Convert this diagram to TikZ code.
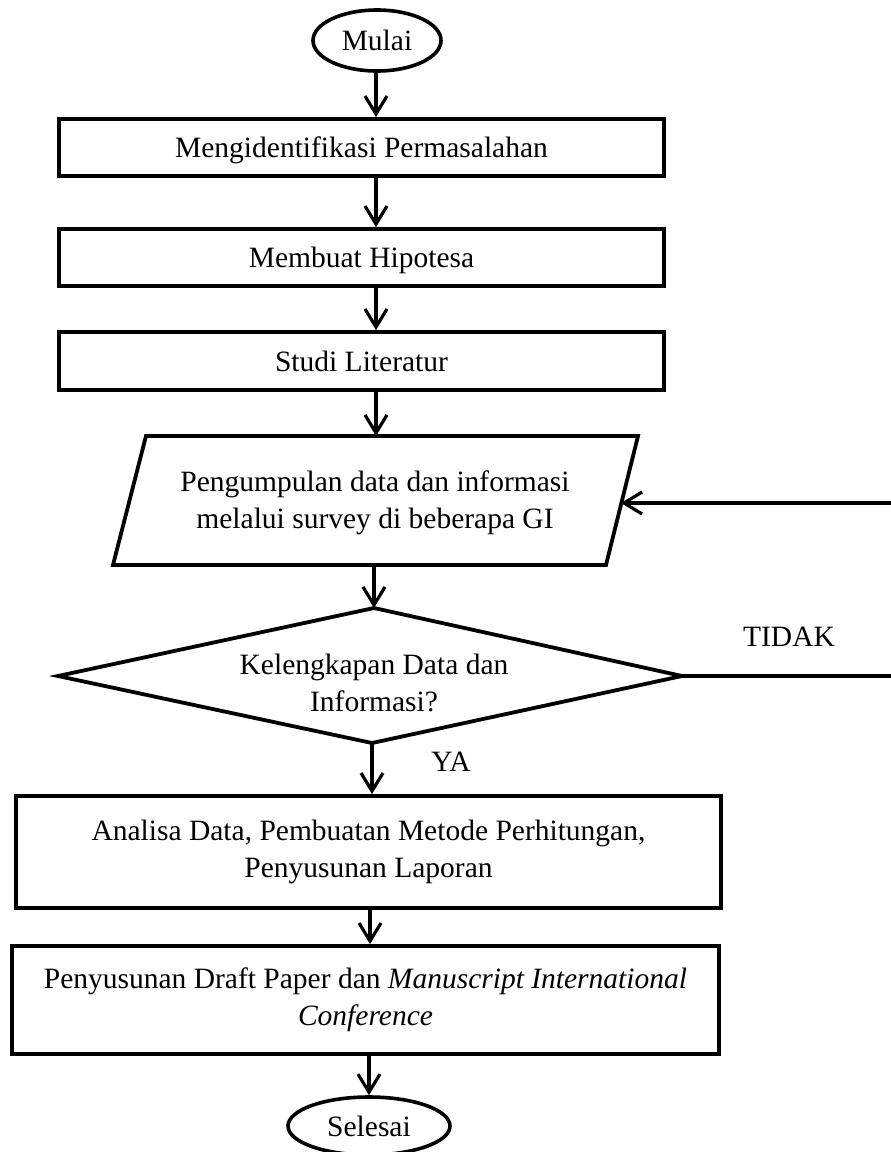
\documentclass[tikz,border=0pt]{standalone}
\usepackage{fontspec}
\setmainfont{Liberation Serif}
\usetikzlibrary{arrows.meta,shapes.geometric,calc}
\begin{document}
\begin{tikzpicture}[x=1pt,y=-1pt,
  every node/.style={font=\fontsize{29.5}{37}\selectfont},
  procbox/.style={draw, line width=3.8pt, inner sep=0pt, align=center},
  onebox/.style={procbox, minimum width=605pt, text depth=0pt},
  term/.style={draw, ellipse, line width=3.6pt, inner sep=0pt},
  shapeline/.style={line width=3.8pt, line join=miter},
  arr/.style={line width=3.2pt, -{Straight Barb[length=18pt,width=22pt,line width=3.2pt]}},
  lbl/.style={inner sep=0pt, align=center}]
\useasboundingbox (0,0) rectangle (891,1152);
% terminators
\node[term, minimum width=128pt, minimum height=61pt] (mulai) at (377,40.5) {Mulai};
\node[term, minimum width=162pt, minimum height=58pt] (selesai) at (369,1126) {Selesai};
% process boxes
\node[onebox, minimum height=57pt] (r1) at (361.5,147.5) {Mengidentifikasi Permasalahan};
\node[onebox, minimum height=57pt] (r2) at (361.5,257.5) {Membuat Hipotesa};
\node[onebox, minimum height=58pt] (r3) at (361.5,361) {Studi Literatur};
% parallelogram
\coordinate (ptl) at (146,436);
\coordinate (ptr) at (638,436);
\coordinate (pbr) at (606,565);
\coordinate (pbl) at (113,565);
\draw[shapeline] (ptl) -- (ptr) -- (pbr) -- (pbl) -- cycle;
\coordinate (ptop) at (376,436);
\coordinate (pbot) at (374,565);
\coordinate (pin) at (621,503);
\node[lbl] (ptext) at (375,503) {Pengumpulan data dan informasi\\melalui survey di beberapa GI};
% decision diamond
\coordinate (dt) at (374,608);
\coordinate (dr) at (682,676);
\coordinate (db) at (372,743);
\coordinate (dl) at (58,676);
\draw[shapeline] (dt) -- (dr) -- (db) -- (dl) -- cycle;
\node[lbl] (dtext) at (374,683) {Kelengkapan Data dan\\Informasi?};
% lower boxes
\node[procbox, minimum width=705pt, minimum height=112pt] (r4) at (368.5,852) {Analisa Data, Pembuatan Metode Perhitungan,\\Penyusunan Laporan};
\node[procbox, minimum width=707pt, minimum height=108pt] (r5) at (365.5,1000) {Penyusunan Draft Paper dan \textit{Manuscript International}\\\textit{Conference}};
% loop-back corner points (outside the page on the right)
\coordinate (c1) at (897,676);
\coordinate (c2) at (897,503);
\coordinate (acol) at (370,0);
% connectors
\draw[arr] (mulai.south -| ptop) -- (r1.north -| ptop);
\draw[arr] (r1.south -| ptop) -- (r2.north -| ptop);
\draw[arr] (r2.south -| ptop) -- (r3.north -| ptop);
\draw[arr] (r3.south -| ptop) -- (ptop);
\draw[arr] (pbot) -- (dt);
\draw[arr] (db) -- (db |- r4.north);
\draw[arr] (r4.south -| acol) -- (r5.north -| acol);
\draw[arr] (r5.south -| selesai) -- (selesai.north);
\draw[line width=3.2pt] (dr) -- (c1) -- (c2);
\draw[arr] (c2) -- (pin);
% labels
\node[lbl] (tidak) at (789,637) {TIDAK};
\node[lbl] (ya) at (451,762) {YA};
\end{tikzpicture}
\end{document}
